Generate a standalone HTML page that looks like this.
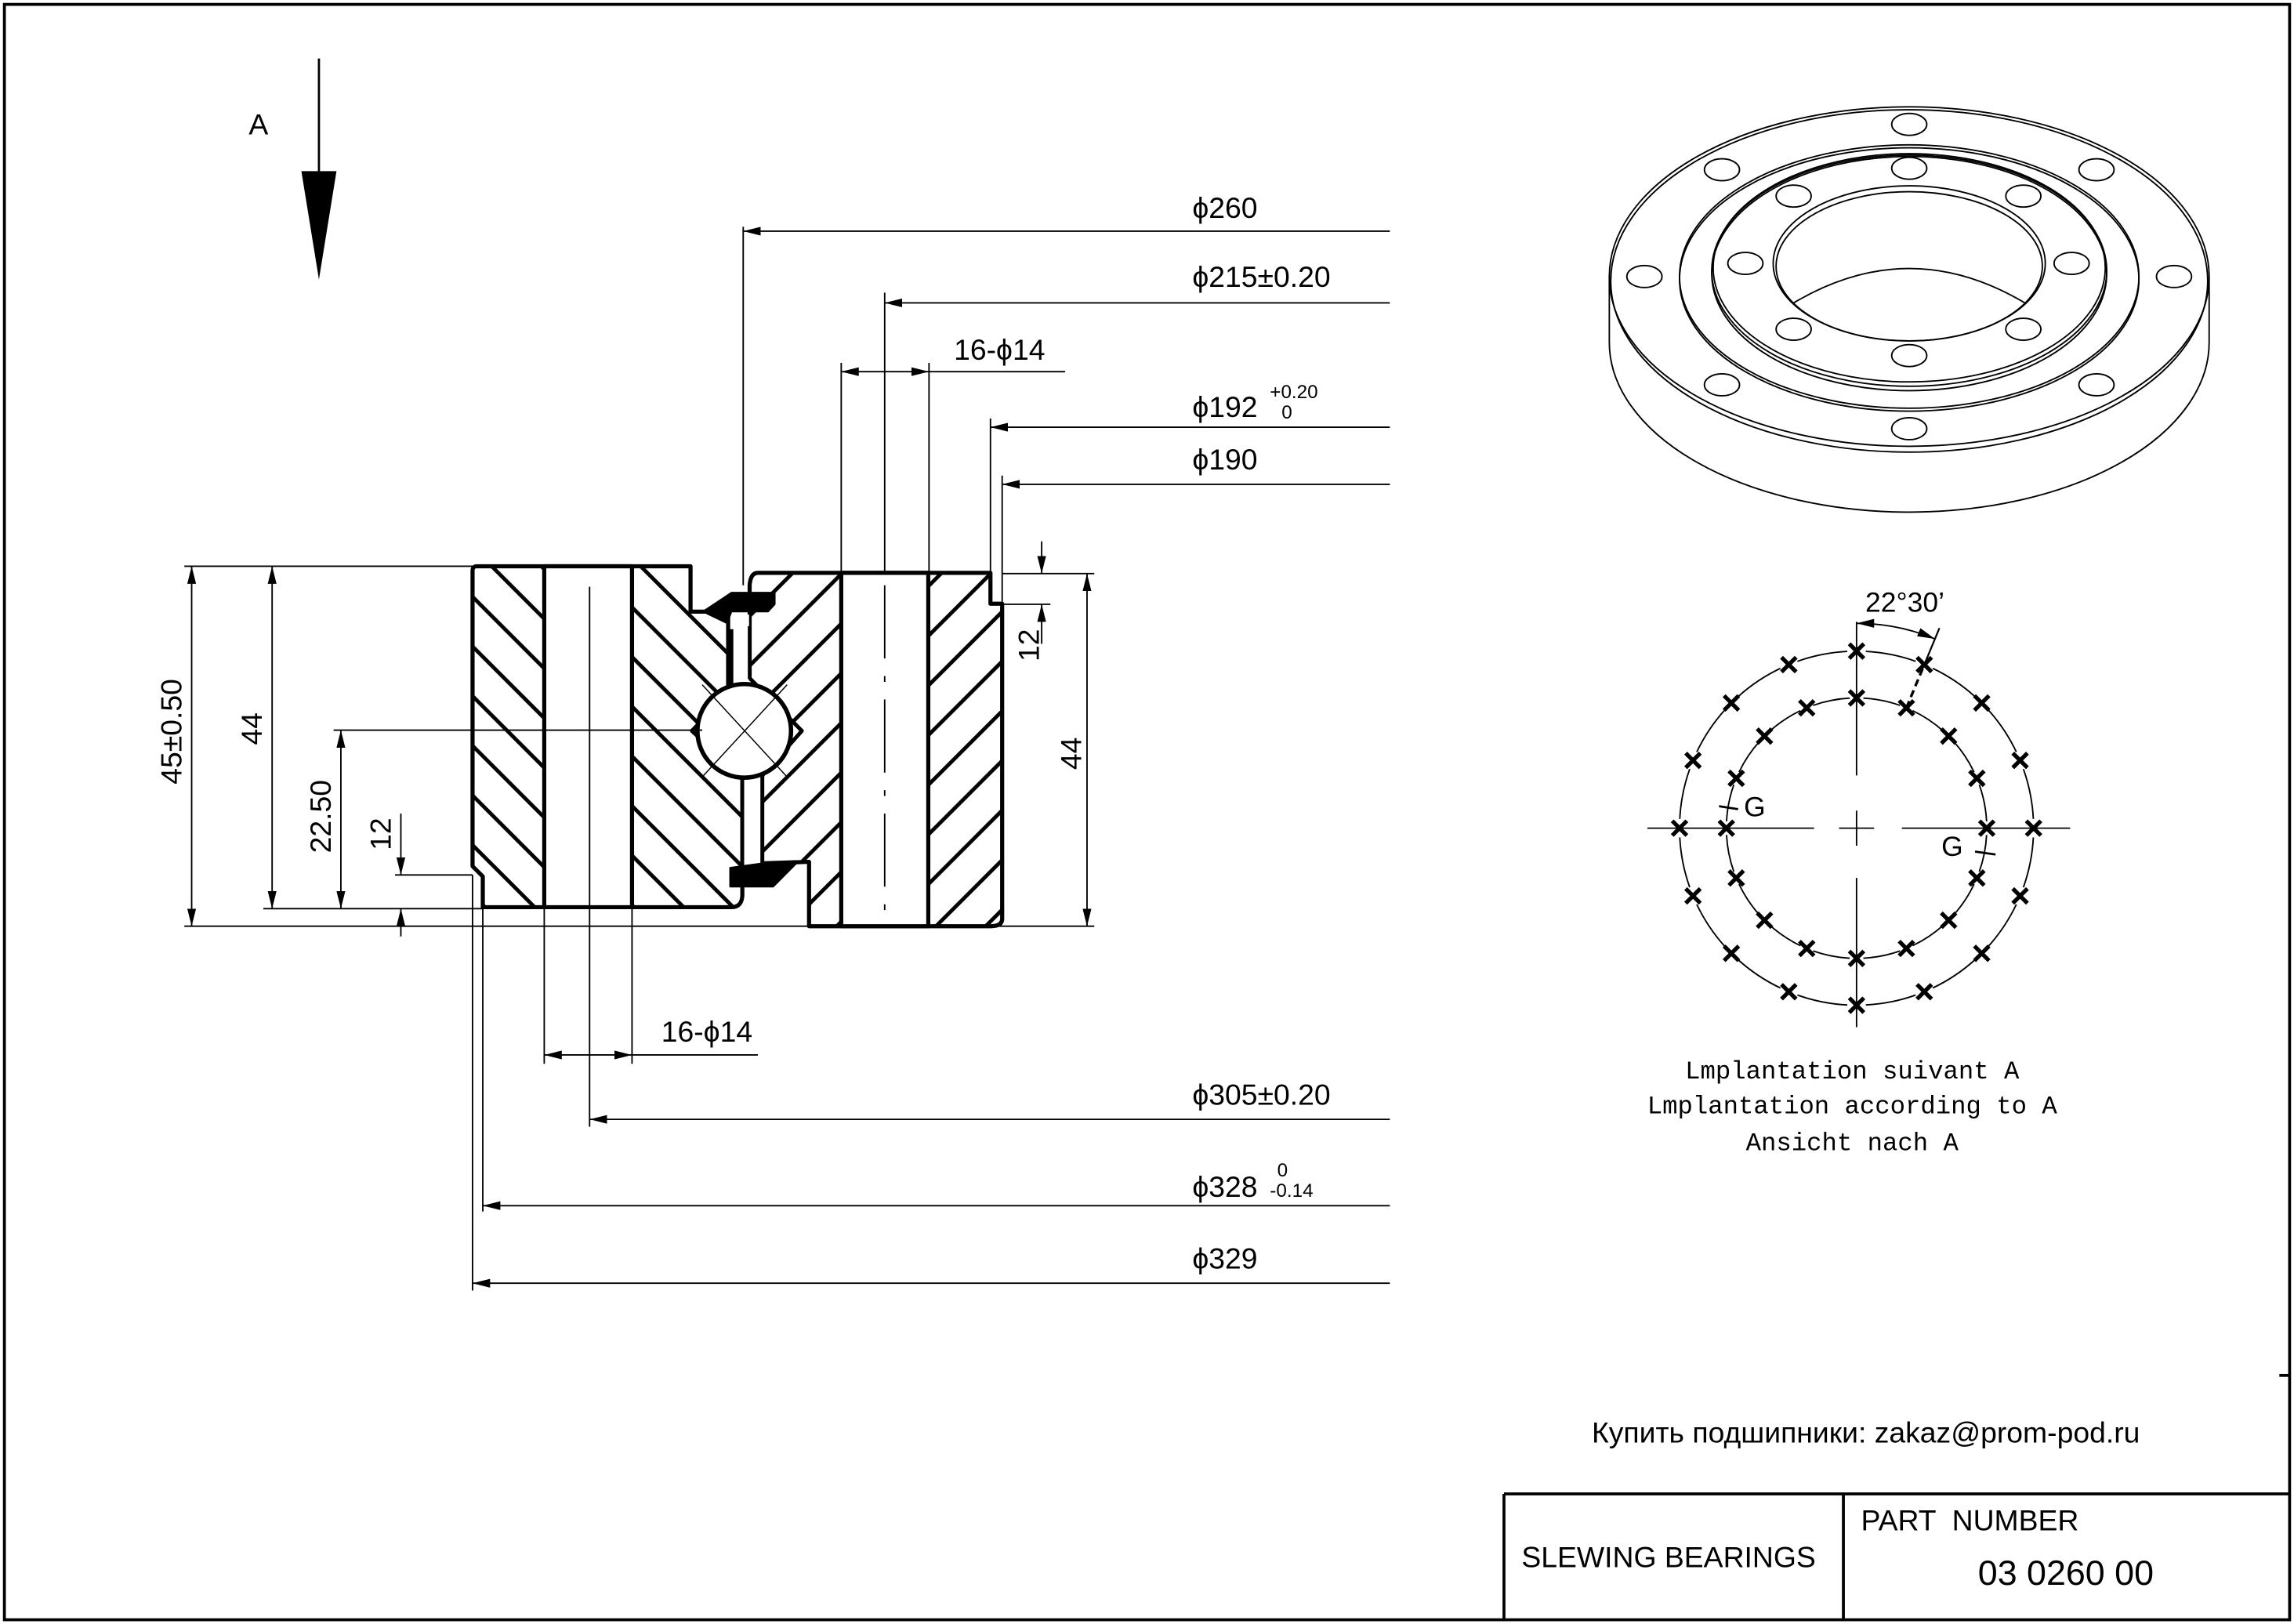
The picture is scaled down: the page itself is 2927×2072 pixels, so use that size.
<!DOCTYPE html>
<html><head><meta charset="utf-8"><style>
html,body{margin:0;padding:0;background:#fff}
svg{display:block}
text{font-family:"Liberation Sans",sans-serif;fill:#000}
.m{font-family:"Liberation Mono",monospace}
</style></head><body>
<svg id="s" width="2927" height="2072" viewBox="0 0 1568 1109.9" preserveAspectRatio="none" xmlns="http://www.w3.org/2000/svg">
<defs>
<pattern id="h1" patternUnits="userSpaceOnUse" width="24" height="24" patternTransform="rotate(-45)">
<line x1="12" y1="0" x2="12" y2="24" stroke="#000" stroke-width="2.6"/></pattern>
<pattern id="h2" patternUnits="userSpaceOnUse" width="24" height="24" patternTransform="rotate(45)">
<line x1="12" y1="0" x2="12" y2="24" stroke="#000" stroke-width="2.6"/></pattern>
<marker id="a" viewBox="0 0 12 6" refX="12" refY="3" markerWidth="12" markerHeight="6" markerUnits="userSpaceOnUse" orient="auto-start-reverse">
<path d="M0,0 L12,3 L0,6 z" fill="#000"/></marker>
</defs>
<rect x="3" y="3" width="1562" height="1104" fill="none" stroke="#000" stroke-width="2"/>
<line x1="218" y1="40" x2="218" y2="120" stroke="#000" stroke-width="1.5"/>
<path d="M206,117 L230,117 L218,191 z" fill="#000"/>
<text x="170" y="92" font-size="20">A</text>

<g stroke="#000" stroke-linejoin="round">
<path d="M326,387 L472,387 L472,418 L497.7,418 L497.7,474 L473,499.5 L507.4,531.6 L507.4,612 Q507,620 500,620 L330,620 L330,599 L323,592 L323,390 Q323,387 326,387 z" fill="url(#h1)" stroke-width="2.8"/>
<path d="M518,391.5 L677,391.5 L677,412.6 L685,412.6 L685,628 Q685,633 677,633 L553,633 L553,589 L521,590 L521,530 L548,499.5 L512.4,463.6 L512.4,400 Q513,391.5 518,391.5 z" fill="url(#h2)" stroke-width="2.8"/>
<rect x="372" y="387" width="60" height="233" fill="#fff" stroke-width="2.8"/>
<rect x="575" y="391.5" width="59.5" height="241.5" fill="#fff" stroke-width="2.8"/>
<path d="M497.7,474 L473,499.5 L507.4,531.6 L521,530 L548,499.5 L512.4,463.6 z" fill="#fff" stroke="none"/>
<rect x="500" y="420" width="12" height="48" fill="#fff" stroke="none"/>
<rect x="507.5" y="530" width="13" height="62" fill="#fff" stroke="none"/>
<line x1="500" y1="430" x2="500" y2="474" stroke-width="2.5"/>
<line x1="512.4" y1="428" x2="512.4" y2="464" stroke-width="2.5"/>
<line x1="507.4" y1="531" x2="507.4" y2="600" stroke-width="2.5"/>
<line x1="521" y1="530" x2="521" y2="592" stroke-width="2.5"/>
<path d="M497.7,474 L473,499.5 L507.4,531.6" fill="none" stroke-width="2.5"/>
<path d="M512.4,463.6 L548,499.5 L521,530" fill="none" stroke-width="2.5"/>
<circle cx="508.7" cy="499.5" r="32" fill="#fff" stroke-width="3"/>
<line x1="480" y1="468" x2="538" y2="531" stroke-width="0.8"/>
<line x1="538" y1="468" x2="480" y2="531" stroke-width="0.8"/>
<path d="M480.4,418 L500,405 L529.6,405 L529.6,413 L525,418 L500,418 L497,426 z" fill="#000" stroke-width="1"/>
<path d="M499,593 L521,590 L544.4,590 L528.5,606 L499,606 z" fill="#000" stroke-width="1"/>
</g>
<g stroke="#000" stroke-width="1" fill="none">
<line x1="403" y1="401" x2="403" y2="770"/>
<line x1="604.7" y1="200" x2="604.7" y2="391"/>
<line x1="604.7" y1="400" x2="604.7" y2="630" stroke-dasharray="50,12,4,12"/>
<line x1="126" y1="387" x2="323" y2="387"/>
<line x1="126" y1="633" x2="748" y2="633"/>
<line x1="180" y1="621" x2="330" y2="621"/>
<line x1="228" y1="499" x2="480" y2="499"/>
<line x1="270" y1="598" x2="323" y2="598"/>
<line x1="685" y1="392" x2="748" y2="392"/>
<line x1="685" y1="413" x2="718" y2="413"/>
<line x1="131" y1="387" x2="131" y2="633" marker-start="url(#a)" marker-end="url(#a)"/>
<line x1="186" y1="387" x2="186" y2="621" marker-start="url(#a)" marker-end="url(#a)"/>
<line x1="233" y1="499" x2="233" y2="621" marker-start="url(#a)" marker-end="url(#a)"/>
<line x1="274" y1="556" x2="274" y2="598" marker-end="url(#a)"/>
<line x1="274" y1="640" x2="274" y2="621" marker-end="url(#a)"/>
<line x1="743" y1="392" x2="743" y2="633" marker-start="url(#a)" marker-end="url(#a)"/>
<line x1="712" y1="370" x2="712" y2="392" marker-end="url(#a)"/>
<line x1="712" y1="440" x2="712" y2="413" marker-end="url(#a)"/>
<line x1="508" y1="155" x2="508" y2="400"/>
<line x1="950" y1="158" x2="508" y2="158" marker-end="url(#a)"/>
<line x1="950" y1="207" x2="604.7" y2="207" marker-end="url(#a)"/>
<line x1="575" y1="248" x2="575" y2="392"/>
<line x1="635" y1="248" x2="635" y2="392"/>
<line x1="575" y1="254" x2="635" y2="254" marker-start="url(#a)" marker-end="url(#a)"/>
<line x1="635" y1="254" x2="728" y2="254"/>
<line x1="677" y1="286" x2="677" y2="392"/>
<line x1="950" y1="292" x2="677" y2="292" marker-end="url(#a)"/>
<line x1="685" y1="325" x2="685" y2="413"/>
<line x1="950" y1="331" x2="685" y2="331" marker-end="url(#a)"/>
<line x1="372" y1="621" x2="372" y2="727"/>
<line x1="432" y1="621" x2="432" y2="727"/>
<line x1="372" y1="721" x2="432" y2="721" marker-start="url(#a)" marker-end="url(#a)"/>
<line x1="432" y1="721" x2="518" y2="721"/>
<line x1="950" y1="765" x2="403" y2="765" marker-end="url(#a)"/>
<line x1="330" y1="621" x2="330" y2="828"/>
<line x1="950" y1="824" x2="330" y2="824" marker-end="url(#a)"/>
<line x1="323" y1="598" x2="323" y2="882"/>
<line x1="950" y1="877" x2="323" y2="877" marker-end="url(#a)"/>
</g>
<g font-size="20">
<text transform="translate(124,500) rotate(-90)" text-anchor="middle">45±0.50</text>
<text transform="translate(179,498) rotate(-90)" text-anchor="middle">44</text>
<text transform="translate(226,558) rotate(-90)" text-anchor="middle">22.50</text>
<text transform="translate(267,570) rotate(-90)" text-anchor="middle">12</text>
<text transform="translate(739,515) rotate(-90)" text-anchor="middle">44</text>
<text transform="translate(710,441) rotate(-90)" text-anchor="middle">12</text>
<text x="815" y="149">ϕ260</text>
<text x="815" y="196">ϕ215±0.20</text>
<text x="652" y="246">16-ϕ14</text>
<text x="815" y="285">ϕ192</text>
<text x="868" y="272" font-size="13">+0.20</text>
<text x="876" y="286" font-size="13">0</text>
<text x="815" y="321">ϕ190</text>
<text x="452" y="712">16-ϕ14</text>
<text x="815" y="755">ϕ305±0.20</text>
<text x="815" y="818">ϕ328</text>
<text x="873" y="804" font-size="13">0</text>
<text x="868" y="818" font-size="13">-0.14</text>
<text x="815" y="867">ϕ329</text>
</g>

<g stroke="#000" stroke-width="1" fill="none">
<path d="M1100,189 L1100,234 A205,116 0 0 0 1510,234 L1510,189"/>
<ellipse cx="1305" cy="189" rx="205" ry="116"/>
<ellipse cx="1305" cy="192" rx="204" ry="117"/>
<ellipse cx="1305" cy="189" rx="157" ry="90"/>
<ellipse cx="1305" cy="191" rx="157" ry="90"/>
<ellipse cx="1305" cy="183" rx="134" ry="78"/>
<ellipse cx="1305" cy="185" rx="135" ry="79"/>
<ellipse cx="1305" cy="187" rx="135" ry="80"/>
<ellipse cx="1305" cy="180" rx="93" ry="53"/>
<ellipse cx="1305" cy="182" rx="91" ry="51"/>
<path d="M1226,207 Q1305,160 1384,207"/>
<g id="holes"></g>
</g>

<g id="bp" stroke="#000" fill="none"></g>
<text x="1275" y="418" font-size="19">22°30’</text>
<text x="1192" y="558" font-size="19">G</text>
<text x="1327" y="585" font-size="19">G</text>

<g font-size="17.3" text-anchor="middle">
<text class="m" x="1266" y="737">Lmplantation suivant A</text>
<text class="m" x="1266" y="761">Lmplantation according to A</text>
<text class="m" x="1266" y="786">Ansicht nach A</text>
</g>

<text x="1088" y="986" font-size="20">Купить подшипники: zakaz@prom-pod.ru</text>
<line x1="1558" y1="940" x2="1565" y2="940" stroke="#000" stroke-width="2"/>
<g stroke="#000" stroke-width="2">
<line x1="1028" y1="1021" x2="1565" y2="1021"/>
<line x1="1028" y1="1021" x2="1028" y2="1107"/>
<line x1="1260" y1="1021" x2="1260" y2="1107"/>
</g>
<text x="1040" y="1071" font-size="20">SLEWING BEARINGS</text>
<text x="1272" y="1046" font-size="20" xml:space="preserve">PART  NUMBER</text>
<text x="1352" y="1083" font-size="24">03 0260 00</text>
</svg>
<script>
var NS="http://www.w3.org/2000/svg";
function el(p,t,a){var e=document.createElementNS(NS,t);for(var k in a)e.setAttribute(k,a[k]);p.appendChild(e);return e;}
var h=document.getElementById("holes");
[[1305,85],[1177,116],[1433,116],[1124,189],[1486,189],[1177,263],[1433,263],[1305,293],
 [1305,115],[1226,134],[1383,134],[1193,180],[1416,180],[1226,225],[1383,225],[1305,243]].forEach(function(p){
 el(h,"ellipse",{cx:p[0],cy:p[1],rx:12,ry:7.5});});
var b=document.getElementById("bp"),cx=1269,cy=566;
[121,89].forEach(function(r){
 for(var k=0;k<16;k++){var a1=(k*22.5+3)*Math.PI/180,a2=(k*22.5+19.5)*Math.PI/180;
  el(b,"path",{d:"M"+(cx+r*Math.sin(a1))+","+(cy-r*Math.cos(a1))+" A"+r+","+r+" 0 0 1 "+(cx+r*Math.sin(a2))+","+(cy-r*Math.cos(a2)),"stroke-width":1});}
 for(var k=0;k<16;k++){var a=k*22.5*Math.PI/180,x=cx+r*Math.sin(a),y=cy-r*Math.cos(a),d=5;
  el(b,"path",{d:"M"+(x-d)+","+(y-d)+" L"+(x+d)+","+(y+d)+" M"+(x+d)+","+(y-d)+" L"+(x-d)+","+(y+d),"stroke-width":2.8});}
});
var L=[[1126,566,1240,566],[1300,566,1415,566],[1257,566,1281,566],[1269,554,1269,578],[1269,425,1269,530],[1269,600,1269,702]];
L.forEach(function(l){el(b,"line",{x1:l[0],y1:l[1],x2:l[2],y2:l[3],"stroke-width":1});});
var a=22.5*Math.PI/180;
el(b,"line",{x1:cx+89*Math.sin(a),y1:cy-89*Math.cos(a),x2:cx+121*Math.sin(a),y2:cy-121*Math.cos(a),"stroke-width":1.8,"stroke-dasharray":"5,3"});
el(b,"line",{x1:cx+121*Math.sin(a),y1:cy-121*Math.cos(a),x2:cx+148*Math.sin(a),y2:cy-148*Math.cos(a),"stroke-width":1.2});
el(b,"path",{d:"M1269,"+(cy-140)+" A140,140 0 0 1 "+(cx+140*Math.sin(a))+","+(cy-140*Math.cos(a)),"stroke-width":1,"marker-start":"url(#a)","marker-end":"url(#a)"});
el(b,"line",{x1:1175,y1:551,x2:1188,y2:553,"stroke-width":1.5});
el(b,"line",{x1:1350,y1:582,x2:1364,y2:584,"stroke-width":1.5});
</script>
</body></html>
